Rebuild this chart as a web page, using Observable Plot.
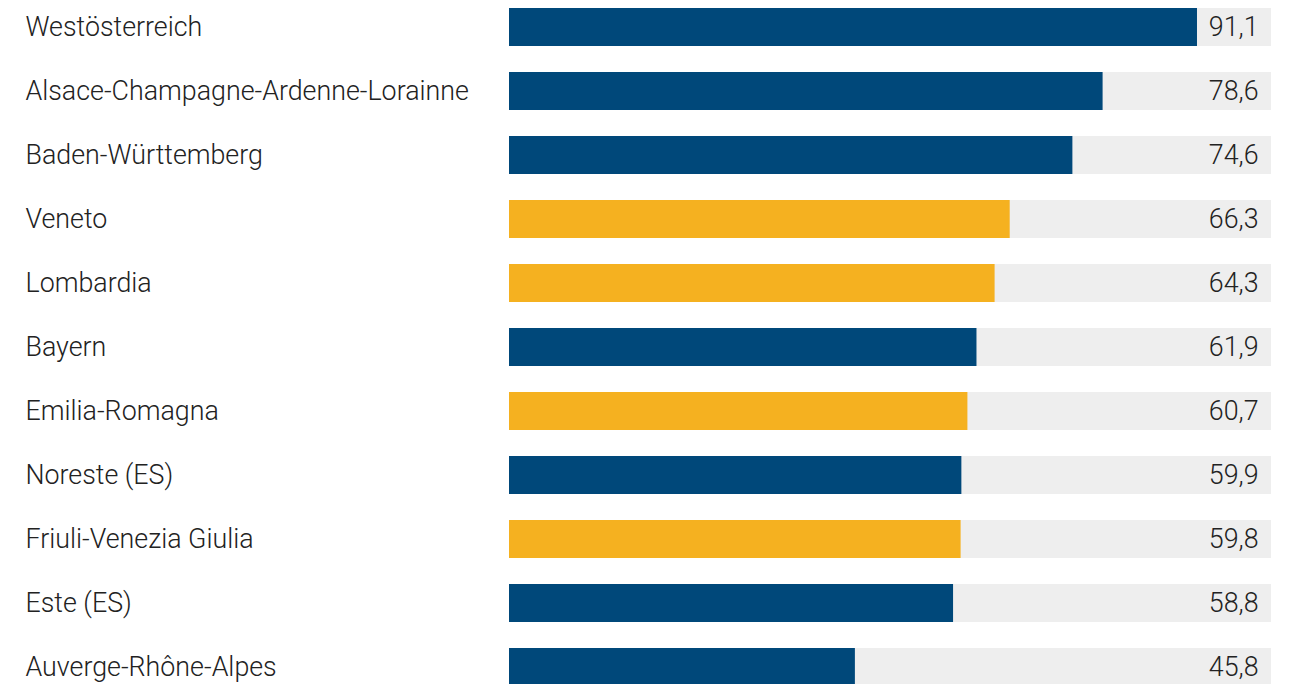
<!DOCTYPE html>
<html>
<head>
<meta charset="utf-8">
<script src="https://cdn.jsdelivr.net/npm/d3@7"></script>
<script src="https://cdn.jsdelivr.net/npm/@observablehq/plot@0.6"></script>
<style>
  html, body { margin: 0; padding: 0; background: #fff; overflow: hidden; }
  #chart svg { display: block; }
</style>
</head>
<body>
<div id="chart"></div>
<script>
const regions = [
  "Westösterreich",
  "Alsace-Champagne-Ardenne-Lorainne",
  "Baden-Württemberg",
  "Veneto",
  "Lombardia",
  "Bayern",
  "Emilia-Romagna",
  "Noreste (ES)",
  "Friuli-Venezia Giulia",
  "Este (ES)",
  "Auverge-Rhône-Alpes"
];
const values = [91.1, 78.6, 74.6, 66.3, 64.3, 61.9, 60.7, 59.9, 59.8, 58.8, 45.8];
const groups = ["other", "other", "other", "italy", "italy", "other", "italy", "other", "italy", "other", "other"];
const trackMax = 100.9;

const data = regions.map((r, i) => ({region: r, value: values[i], group: groups[i], track: trackMax}));
const fmt = v => v.toFixed(1).replace(".", ",");

const chart = Plot.plot({
  width: 1293,
  height: 684,
  marginLeft: 509,
  marginRight: 22,
  marginTop: 0,
  marginBottom: 0,
  style: {fontFamily: "Roboto, sans-serif", background: "#fff"},
  x: {domain: [0, trackMax], axis: null},
  y: {domain: regions, range: [-19.2, 713.2], padding: 26.2 / 64.2, axis: null},
  color: {domain: ["other", "italy"], range: ["#00487A", "#F5B120"]},
  marks: [
    Plot.barX(data, {y: "region", x: "track", fill: "#EEEEEE"}),
    Plot.barX(data, {y: "region", x: "value", fill: "group"}),
    Plot.text(data, {
      y: "region", text: "region", frameAnchor: "left", textAnchor: "start",
      dx: -484, fontSize: 26.8, fontWeight: 300, fill: "#222"
    }),
    Plot.text(data, {
      y: "region", x: "track", text: d => fmt(d.value), textAnchor: "end",
      dx: -13, fontSize: 26.8, fontWeight: 300, fill: "#222"
    })
  ]
});
document.getElementById("chart").appendChild(chart);
</script>
</body>
</html>
